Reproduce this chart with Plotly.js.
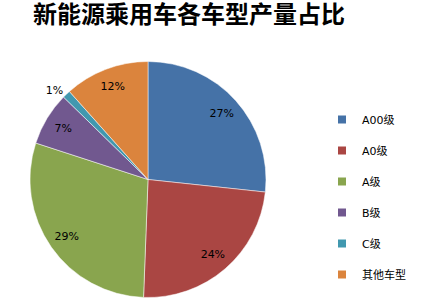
<!DOCTYPE html>
<html><head><meta charset="utf-8">
<script src="https://cdn.plot.ly/plotly-3.0.1.min.js"></script>
<style>html,body{margin:0;padding:0;background:#fff}#c{width:427px;height:302px}</style>
</head><body><div id="c"></div>
<script>
var categories = ["A00级", "A0级", "A级", "B级", "C级", "其他车型"];
var shares = [26.7, 23.9, 29.4, 7.3, 1.1, 11.6];
var colors = ["#4572A7", "#AA4643", "#89A54E", "#71588F", "#4198AF", "#DB843D"];
var textPos = ["inside", "inside", "inside", "inside", "outside", "inside"];

var dom = {x: [30/427, 266/427], y: [1 - 298/302, 1 - 61/302]};

var pieMain = {
  type: "pie", labels: categories, values: shares, sort: false,
  direction: "clockwise", rotation: 0, showlegend: false,
  marker: {colors: colors, line: {color: "#ffffff", width: 0.5}},
  textinfo: "none", hoverinfo: "none", domain: dom
};

var pieLabels = {
  type: "pie", labels: categories, values: shares, sort: false,
  direction: "clockwise", rotation: 0, showlegend: false, hole: 0.68,
  marker: {colors: categories.map(function(){return "rgba(0,0,0,0)";}), line: {width: 0}},
  texttemplate: "%{percent:.0%}", textposition: textPos,
  insidetextorientation: "horizontal",
  textfont: {family: "DejaVu Sans, sans-serif", size: 11, color: "#000"},
  hoverinfo: "none", domain: dom
};

var legendTraces = categories.map(function(c, i){
  return {type: "scatter", mode: "markers", x: [null], y: [null], name: c,
    legendgroup: "g" + i, showlegend: true,
    marker: {symbol: "square", size: 8, color: colors[i]}, hoverinfo: "none"};
});

var layout = {
  width: 427, height: 302,
  margin: {l: 0, r: 0, t: 0, b: 0},
  paper_bgcolor: "#fff", plot_bgcolor: "rgba(0,0,0,0)",
  xaxis: {visible: false}, yaxis: {visible: false},
  showlegend: true,
  legend: {x: 322/427, y: 1 - 105/302, xanchor: "left", yanchor: "top",
    font: {family: "DejaVu Sans, Noto Sans CJK SC, sans-serif", size: 11, color: "#000"},
    tracegroupgap: 12, itemwidth: 30, bgcolor: "rgba(0,0,0,0)", traceorder: "grouped"},
  title: {text: "新能源乘用车各车型产量占比", x: 189/427, xanchor: "center", y: 1 - 15/302, yanchor: "middle",
    font: {family: "Noto Sans CJK SC, sans-serif", size: 24, color: "#000", weight: "bold"}}
};

Plotly.newPlot("c", [pieMain, pieLabels].concat(legendTraces), layout, {staticPlot: true, displayModeBar: false});
</script></body></html>
